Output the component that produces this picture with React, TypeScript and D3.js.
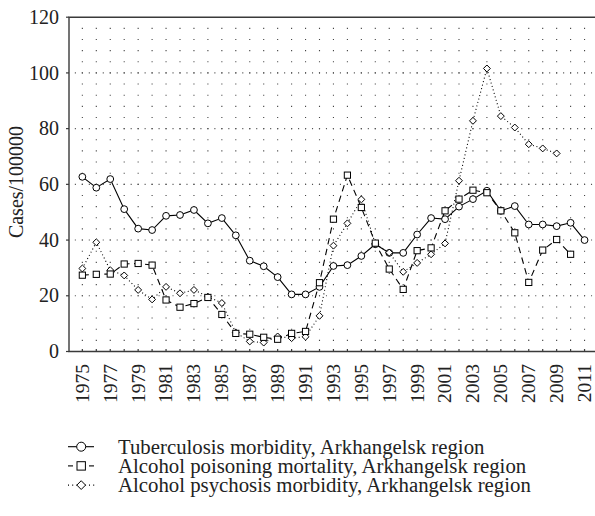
import React from "react";
import * as d3 from "d3";

const years: number[] = d3.range(1975, 2012);
const tuberculosis: (number | null)[] = [
  62.7, 58.8, 61.9, 51.1, 44.1, 43.6, 48.7, 49, 50.8, 46,
  47.9, 41.7, 32.6, 30.6, 26.7, 20.5, 20.5, 23.2, 30.7, 31,
  34.3, 38.5, 35.4, 35.4, 42, 47.9, 47.5, 52, 54.7, 57.7,
  50.5, 52.2, 45.6, 45.6, 45, 46.2, 40,
];
const poisoning: (number | null)[] = [
  27.4, 27.7, 27.8, 31.4, 31.6, 31, 18.5, 15.9, 17.2, 19.4,
  13.3, 6.5, 6.2, 5.1, 4.4, 6.5, 7.2, 24.7, 47.5, 63.3,
  51.7, 38.9, 29.6, 22.3, 36.2, 37.2, 50.5, 54.7, 57.9, 57,
  50.5, 42.6, 24.8, 36.4, 40.2, 34.9, null,
];
const psychosis: (number | null)[] = [
  29.8, 39.2, 29.2, 27.3, 22.1, 18.7, 23.2, 20.9, 22.1, 19.7,
  17.4, 6.8, 3.6, 3.2, 5.4, 4.8, 5.3, 12.8, 38, 46,
  54.6, 38.7, 35.5, 28.6, 31.8, 34.9, 38.8, 61.3, 82.8, 101.6,
  84.5, 80.4, 74.4, 72.9, 71.1, null, null,
];
const yTicks: number[] = [0, 20, 40, 60, 80, 100, 120];
const xLabelYears: number[] = d3.range(1975, 2012, 2);
const legendLabels: string[] = [
  "Tuberculosis morbidity, Arkhangelsk region",
  "Alcohol poisoning mortality, Arkhangelsk region",
  "Alcohol psychosis morbidity, Arkhangelsk region",
];

const FONT = "Liberation Serif, Times New Roman, DejaVu Serif, serif";
const TXT: React.CSSProperties = { fontFamily: FONT };

type Marker = "circle" | "square" | "diamond";

function MarkerShape({ kind, x, y, s }: { kind: Marker; x: number; y: number; s: number }) {
  if (kind === "circle") return <circle cx={x} cy={y} r={s} fill="#fff" stroke="#000" strokeWidth={1} />;
  if (kind === "square")
    return <rect x={x - s} y={y - s} width={2 * s} height={2 * s} fill="#fff" stroke="#000" strokeWidth={1} />;
  const d = s * 1.15;
  return (
    <path
      d={`M${x},${y - d}L${x + d},${y}L${x},${y + d}L${x - d},${y}Z`}
      fill="#fff"
      stroke="#000"
      strokeWidth={1}
    />
  );
}

export default function App() {
  const W = 595, H = 516;
  const x = d3.scaleLinear().domain([1974, 2012]).range([68.4, 598.5]);
  const y = d3.scaleLinear().domain([0, 120]).range([351.5, 17.2]);
  const left = 69, top = y(120), bottom = y(0), right = 600;

  const series: { values: (number | null)[]; dash: string; marker: Marker; size: number }[] = [
    { values: tuberculosis, dash: "none", marker: "circle", size: 3.4 },
    { values: psychosis, dash: "1 2.6", marker: "diamond", size: 3.0 },
    { values: poisoning, dash: "6.5 4.5", marker: "square", size: 3.1 },
  ];

  const line = d3
    .line<[number, number | null]>()
    .defined((d) => d[1] != null)
    .x((d) => x(d[0]))
    .y((d) => y(d[1] as number));

  const gridStep = y(0) - y(4);
  const yearStep = x(1976) - x(1975);

  const legendKinds: Marker[] = ["circle", "square", "diamond"];

  return (
    <svg
      width={W}
      height={H}
      style={{ position: "absolute", left: 0, top: 0, background: "#fff", fontFamily: FONT }}
    >
      <rect width={W} height={H} fill="#fff" />
      {years.map((yr) => (
        <line
          key={"vg" + yr}
          x1={x(yr)}
          x2={x(yr)}
          y1={bottom}
          y2={top}
          stroke="#444"
          strokeWidth={1.1}
          strokeDasharray={`1.1 ${gridStep - 1.1}`}
          strokeDashoffset={0.55}
        />
      ))}
      {yTicks.slice(1, -1).map((t) => (
        <line
          key={"hg" + t}
          x1={left}
          x2={right}
          y1={y(t)}
          y2={y(t)}
          stroke="#555"
          strokeWidth={1.1}
          strokeDasharray={`1.1 ${yearStep / 2 - 1.1}`}
          strokeDashoffset={-(x(1975) - left) + 0.55}
        />
      ))}
      <path d={`M${right},${top}H${left}V${bottom}H${right}`} fill="none" stroke="#3a3a3a" strokeWidth={1.4} />
      {years.map((yr) => (
        <line key={"xt" + yr} x1={x(yr)} x2={x(yr)} y1={bottom - 2.5} y2={bottom} stroke="#3a3a3a" strokeWidth={1.2} />
      ))}
      {yTicks.map((t) => (
        <g key={"yt" + t}>
          <line x1={left - 3} x2={left} y1={y(t)} y2={y(t)} stroke="#3a3a3a" strokeWidth={1.2} />
          <text x={59} y={y(t)} dy="0.33em" textAnchor="end" fontSize={20} fill="#222" style={TXT}>
            {t}
          </text>
        </g>
      ))}
      {xLabelYears.map((yr) => (
        <text
          key={"xl" + yr}
          transform={`translate(${x(yr)},${364}) rotate(-90)`}
          dy="0.33em"
          textAnchor="end"
          fontSize={19.5}
          fill="#222"
          style={TXT}
        >
          {yr}
        </text>
      ))}
      <text transform="translate(23,182) rotate(-90)" textAnchor="middle" fontSize={20} fill="#222" style={TXT}>
        Cases/100000
      </text>
      {series.map((s, i) => {
        const pts: [number, number | null][] = years.map((yr, j) => [yr, s.values[j]]);
        return (
          <path key={"s" + i} d={line(pts) || ""} fill="none" stroke="#000" strokeWidth={1.1} strokeDasharray={s.dash} />
        );
      })}
      {series.map((s, i) => (
        <g key={"m" + i}>
          {years.map((yr, j) =>
            s.values[j] == null ? null : (
              <MarkerShape key={yr} kind={s.marker} x={x(yr)} y={y(s.values[j] as number)} s={s.size} />
            )
          )}
        </g>
      ))}
      {legendLabels.map((lab, i) => {
        const ly = 446.7 + i * 19.2;
        const kind = legendKinds[i];
        return (
          <g key={"lg" + i}>
            {kind === "circle" && <line x1={68} x2={94} y1={ly} y2={ly} stroke="#000" strokeWidth={1.1} />}
            {kind === "square" && (
              <g stroke="#000" strokeWidth={1.1}>
                <line x1={68} x2={73} y1={ly} y2={ly} />
                <line x1={89} x2={94} y1={ly} y2={ly} />
              </g>
            )}
            {kind === "diamond" && (
              <line x1={68} x2={95} y1={ly} y2={ly} stroke="#000" strokeWidth={1.1} strokeDasharray="1 3.2" />
            )}
            <MarkerShape kind={kind} x={81.2} y={ly} s={kind === "circle" ? 4.5 : kind === "square" ? 4.2 : 3.8} />
            <text x={118} y={ly} dy="0.33em" fontSize={20.8} fill="#222" style={TXT}>
              {lab}
            </text>
          </g>
        );
      })}
    </svg>
  );
}
